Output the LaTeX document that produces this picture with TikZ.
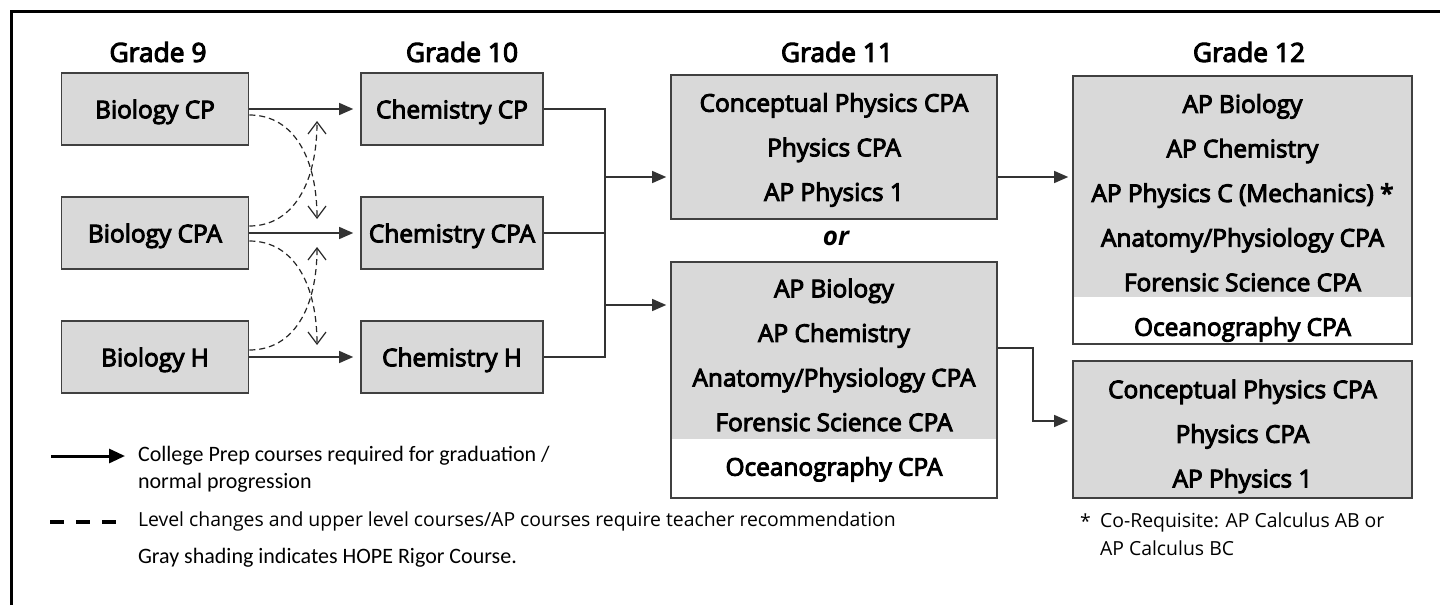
\documentclass[tikz,border=0pt]{standalone}
\usepackage{fontspec}
\setmainfont{Open Sans}
\newfontfamily\coursefont{Open Sans}[FakeBold=4]
\newfontfamily\calfont{Carlito}
\usetikzlibrary{arrows.meta, calc}

\tikzset{
  courselist/.style={align=center, font=\coursefont\fontsize{12.2}{22.3}\selectfont,
    inner sep=0pt, text depth=0pt},
  course/.style={courselist, draw=black!75, line width=0.8pt, fill=gray!30},
  splitcourse/.style={course, fill=white,
    path picture={\fill[gray!30] (path picture bounding box.north west)
      rectangle ([yshift=#1]path picture bounding box.south east);}},
  grade/.style={font=\coursefont\fontsize{13.2}{15}\selectfont},
  flow/.style={draw=black!80, line width=0.6pt},
  flowarrow/.style={flow, -{Triangle[length=7pt,width=6pt]}, shorten >=2pt},
  switch/.style={draw=black!85, line width=0.6pt, dash pattern=on 3pt off 2pt,
    -{Straight Barb[length=6pt,width=9pt]}},
  keytext/.style={anchor=west, align=left, font=\fontsize{9.7}{14}\selectfont},
  calkey/.style={keytext, font=\calfont\fontsize{11}{13.5}\selectfont},
}

\begin{document}
\begin{tikzpicture}[x=0.5pt,y=-0.5pt]
\useasboundingbox (0,0) rectangle (1440,605);
% Frame
\draw[line width=1.5pt] (11,605) -- (11,11) -- (1440,11);

% Grade headings
\node[grade] (g9)  at (158,52)  {Grade 9};
\node[grade] (g10) at (462,52)  {Grade 10};
\node[grade] (g11) at (837,52)  {Grade 11};
\node[grade] (g12) at (1249,52) {Grade 12};

% Grade 9
\node[course, minimum width=93.5pt, minimum height=36pt] (biocp)  at (155,109) {Biology CP};
\node[course, minimum width=93.5pt, minimum height=36pt] (biocpa) at (155,233) {Biology CPA};
\node[course, minimum width=93.5pt, minimum height=36pt] (bioh)   at (155,357) {Biology H};

% Grade 10
\node[course, minimum width=91pt, minimum height=36pt] (chemcp)  at (452,109) {Chemistry CP};
\node[course, minimum width=91pt, minimum height=36pt] (chemcpa) at (452,233) {Chemistry CPA};
\node[course, minimum width=91pt, minimum height=36pt] (chemh)   at (452,357) {Chemistry H};

% Grade 11
\node[course, minimum width=163pt, minimum height=72pt] (g11a) at (834,147)
  {Conceptual Physics CPA\\Physics CPA\\AP Physics 1};
\node[font=\bfseries\itshape\fontsize{13}{15}\selectfont] (or) at (836,238) {or};
\node[splitcourse=29.5pt, minimum width=163pt, minimum height=118pt, text depth=2.8pt] (g11b) at (834,380)
  {AP Biology\\AP Chemistry\\Anatomy/Physiology CPA\\Forensic Science CPA\\Oceanography CPA};

% Grade 12
\node[splitcourse=23.5pt, minimum width=169.5pt, minimum height=134pt] (g12a) at (1242.5,210) {};
\node[courselist, text depth=-4pt] (g12alist) at (1242.5,215)
  {AP Biology\\AP Chemistry\\AP Physics C (Mechanics) *\\Anatomy/Physiology CPA\\Forensic Science CPA\\Oceanography CPA};
\node[course, minimum width=169.5pt, minimum height=68.5pt] (g12b) at (1242.5,429.5) {};
\node[courselist, text depth=-3.5pt] (g12blist) at (1242.5,433.5)
  {Conceptual Physics CPA\\Physics CPA\\AP Physics 1};

% Normal progression
\draw[flowarrow, shorten >=3.5pt] (biocp.east) -- (chemcp.west);
\draw[flowarrow, shorten >=3.5pt] (biocpa.east) -- (chemcpa.west);
\draw[flowarrow, shorten >=3.5pt] (bioh.east) -- (chemh.west);

% Level changes
\coordinate (upA) at (317,121);
\coordinate (dnA) at (317,219);
\coordinate (upB) at (317,247);
\coordinate (dnB) at (317,345);
\draw[switch] ([yshift=-3pt]biocp.east) .. controls +(45,0) and +(0,-60) .. (dnA);
\draw[switch] ([yshift=3.5pt]biocpa.east) .. controls +(45,0) and +(0,60) .. (upA);
\draw[switch] ([yshift=-4pt]biocpa.east) .. controls +(45,0) and +(0,-60) .. (dnB);
\draw[switch] ([yshift=3.5pt]bioh.east) .. controls +(45,0) and +(0,60) .. (upB);

% Chemistry to grade 11
\coordinate (bus) at (605,0);
\coordinate (rowA) at (0,177);
\coordinate (rowB) at (0,305);
\draw[flow] (chemcp.east) -- (chemcp.east -| bus) -- (chemh.east -| bus) -- (chemh.east);
\draw[flow] (chemcpa.east) -- (chemcpa.east -| bus);
\draw[flowarrow] (bus |- rowA) -- (g11a.west |- rowA);
\draw[flowarrow] (bus |- rowB) -- (g11b.west |- rowB);

% Grade 11 to grade 12
\coordinate (bend) at (1033,348);
\coordinate (rowD) at (0,421);
\draw[flowarrow] (g11a.east |- rowA) -- (g12a.west |- rowA);
\draw[flowarrow] (g11b.east |- bend) -- (bend) -- (bend |- rowD) -- (g12b.west |- rowD);

% Key
\coordinate (keyA) at (51,456);
\coordinate (keyB) at (125,456);
\coordinate (keyC) at (50,522);
\coordinate (keyD) at (117,522);
\draw[line width=1.5pt, -{Triangle[length=8pt,width=7pt]}] (keyA) -- (keyB);
\draw[line width=1.6pt, dash pattern=on 7pt off 6pt] (keyC) -- (keyD);
\node[calkey] (keysolid) at (131,469)
  {College Prep courses required for graduation /\\normal progression};
\node[keytext] (keydash) at (131,521)
  {Level changes and upper level courses/AP courses require teacher recommendation};
\node[calkey] (keygray) at (131,558)
  {Gray shading indicates HOPE Rigor Course.};

% Footnote
\node[keytext] (star) at (1073,521) {*};
\node[keytext] (note) at (1093,534) {Co-Requisite: AP Calculus AB or\\AP Calculus BC};
\end{tikzpicture}
\end{document}
